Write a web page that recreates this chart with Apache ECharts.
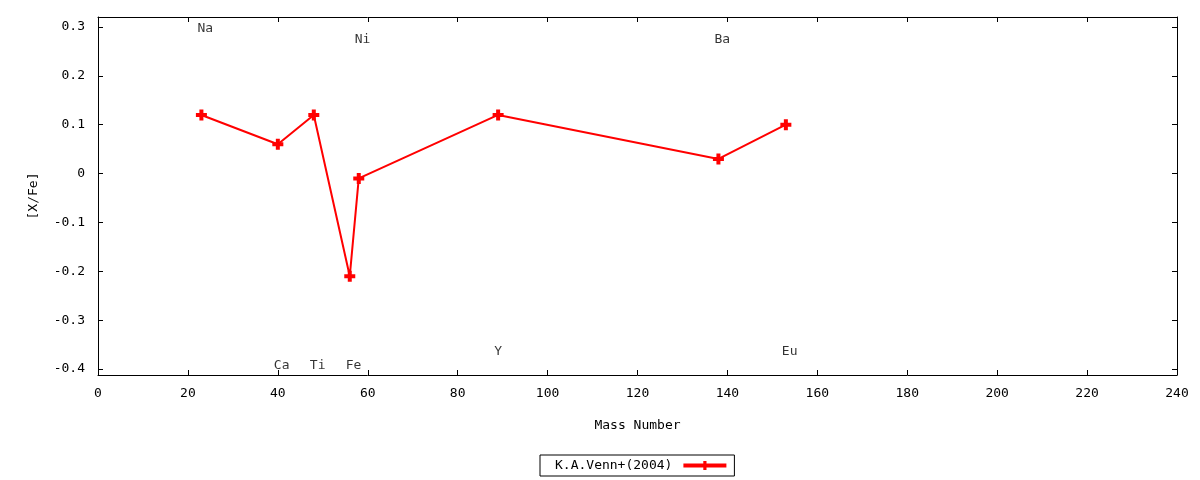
<!DOCTYPE html>
<html><head><meta charset="utf-8">
<script src="https://cdn.jsdelivr.net/npm/echarts@6/dist/echarts.min.js"></script>
<style>html,body{margin:0;padding:0;background:#fff}#c{width:1200px;height:480px}</style>
</head><body><div id="c"></div>
<script>
const elements = ['Na','Ca','Ti','Fe','Ni','Y','Ba','Eu'];
const massNumbers = [23, 40, 48, 56, 58, 89, 138, 153];
const xFe = [0.12, 0.06, 0.12, -0.21, -0.01, 0.12, 0.03, 0.10];
const labelElements = ['Na','Ni','Ba','Ca','Ti','Fe','Y','Eu'];
const labelX = [23, 58, 138, 40, 48, 56, 89, 153];
const labelY = [0.30, 0.278, 0.278, -0.39, -0.39, -0.39, -0.361, -0.361];
const yTicks = [0.3, 0.2, 0.1, 0, -0.1, -0.2, -0.3, -0.4];
const seriesName = 'K.A.Venn+(2004)';

const FONT = 'DejaVu Sans Mono';
const plus = 'path://M3.5,0H7.5V3.5H11V7.5H7.5V11H3.5V7.5H0V3.5H3.5Z';
const chart = echarts.init(document.getElementById('c'));
const tick = {show: true, inside: true, length: 5, lineStyle: {color: '#000'}};
const axisCommon = {
  axisLine: {show: true, onZero: false, lineStyle: {color: '#000', width: 1}},
  axisTick: tick,
  splitLine: {show: false},
};
chart.setOption({
  animation: false,
  textStyle: {fontFamily: FONT},
  grid: {left: 98, right: 23, top: 17, bottom: 105},
  legend: {
    data: [seriesName], left: 540, top: 455, align: 'right',
    itemWidth: 43, itemHeight: 11, borderColor: '#000', borderWidth: 1,
    borderRadius: 0, padding: [4, 6, 4, 15],
    lineStyle: {width: 4},
    textStyle: {fontFamily: FONT, fontSize: 13, color: '#000', padding: [0, 6, 0, 0]}
  },
  xAxis: [
    Object.assign({}, axisCommon, {type: 'value', min: 0, max: 240, interval: 20,
      position: 'bottom', name: 'Mass Number', nameLocation: 'middle', nameGap: 44,
      nameTextStyle: {fontFamily: FONT, fontSize: 13, color: '#000'},
      axisLabel: {fontFamily: FONT, fontSize: 13, color: '#000', margin: 12}}),
    Object.assign({}, axisCommon, {type: 'value', min: 0, max: 240, interval: 20,
      position: 'top', axisLabel: {show: false}})
  ],
  yAxis: [
    Object.assign({}, axisCommon, {type: 'value', min: -0.4123, max: 0.3205,
      position: 'left', name: '[X/Fe]', nameLocation: 'middle', nameGap: 58,
      nameTextStyle: {fontFamily: FONT, fontSize: 13, color: '#000'},
      axisTick: Object.assign({}, tick, {customValues: yTicks}),
      axisLabel: {fontFamily: FONT, fontSize: 13, color: '#000', margin: 13, customValues: yTicks,
        formatter: v => (Math.abs(v) < 1e-9 ? '0' : String(Math.round(v * 10) / 10))}}),
    Object.assign({}, axisCommon, {type: 'value', min: -0.4123, max: 0.3205,
      position: 'right',
      axisTick: Object.assign({}, tick, {customValues: yTicks}),
      axisLabel: {show: false, customValues: yTicks}})
  ],
  series: [
    {
      name: seriesName, type: 'line', xAxisIndex: 0, yAxisIndex: 0,
      data: massNumbers.map((m, i) => [m, xFe[i]]),
      symbol: plus, symbolSize: 11, showAllSymbol: true,
      lineStyle: {color: '#ff0000', width: 2},
      itemStyle: {color: '#ff0000'},
      emphasis: {disabled: true}
    },
    {
      name: 'labels', type: 'scatter', xAxisIndex: 0, yAxisIndex: 0,
      data: labelX.map((x, i) => ({value: [x, labelY[i]], name: labelElements[i]})),
      symbolSize: 0, silent: true,
      label: {show: true, position: 'right', distance: 0, offset: [-4, 2],
        formatter: p => p.name, fontFamily: FONT, fontSize: 13, color: '#000'}
    }
  ]
});
</script></body></html>
